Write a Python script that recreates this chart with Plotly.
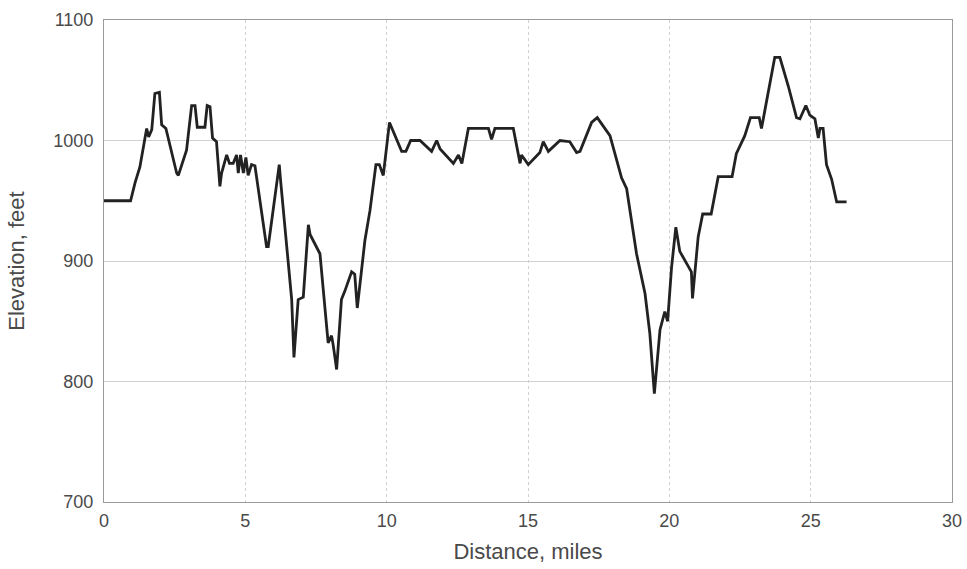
import plotly.graph_objects as go

distance_miles = [0.0, 0.94, 1.10, 1.27, 1.45, 1.51, 1.58, 1.69, 1.80, 1.96, 2.04, 2.19, 2.57, 2.63,
                  2.92, 3.10, 3.22, 3.30, 3.57, 3.65, 3.75, 3.84, 3.98, 4.10, 4.16, 4.34, 4.44,
                  4.57, 4.69, 4.75, 4.83, 4.93, 5.02, 5.10, 5.22, 5.34, 5.75, 5.81, 6.20, 6.25,
                  6.64, 6.72, 6.87, 7.05, 7.23, 7.29, 7.64, 7.93, 8.05, 8.11, 8.23, 8.40, 8.52,
                  8.76, 8.87, 8.96, 9.23, 9.41, 9.62, 9.74, 9.88, 10.10, 10.53, 10.68, 10.85,
                  11.18, 11.59, 11.77, 11.89, 12.36, 12.54, 12.66, 12.89, 13.60, 13.71, 13.83,
                  14.48, 14.72, 14.77, 15.01, 15.42, 15.54, 15.72, 16.13, 16.48, 16.72, 16.84,
                  17.25, 17.45, 17.90, 18.31, 18.49, 18.84, 19.14, 19.31, 19.47, 19.67, 19.84,
                  19.94, 20.08, 20.23, 20.37, 20.78, 20.82, 21.02, 21.18, 21.48, 21.73, 22.22,
                  22.37, 22.67, 22.87, 23.18, 23.26, 23.38, 23.73, 23.91, 24.21, 24.50, 24.62,
                  24.83, 24.97, 25.15, 25.27, 25.33, 25.44, 25.56, 25.74, 25.92, 26.27]
elevation_feet = [950, 950, 965, 978, 1002, 1010, 1003, 1009, 1039, 1040, 1013, 1010, 973, 971,
                  992, 1029, 1029, 1011, 1011, 1029, 1028, 1002, 999, 962, 973, 988, 981,
                  981, 988, 973, 988, 973, 986, 971, 980, 979, 912, 912, 980, 966,
                  868, 820, 868, 870, 930, 922, 906, 832, 838, 830, 810, 868, 875,
                  891, 889, 861, 917, 942, 980, 980, 971, 1015, 991, 991, 1000,
                  1000, 991, 1000, 993, 981, 988, 981, 1010, 1010, 1001, 1010,
                  1010, 981, 988, 980, 990, 999, 991, 1000, 999, 990, 991,
                  1015, 1019, 1004, 969, 960, 906, 873, 840, 790, 843, 858,
                  850, 895, 928, 908, 891, 869, 920, 939, 939, 970, 970,
                  989, 1004, 1019, 1019, 1010, 1025, 1069, 1069, 1045, 1019, 1018,
                  1029, 1021, 1018, 1002, 1010, 1010, 980, 968, 949, 949]

x_ticks = [0, 5, 10, 15, 20, 25, 30]
y_ticks = [700, 800, 900, 1000, 1100]

fig = go.Figure()
fig.add_trace(go.Scatter(
    x=distance_miles, y=elevation_feet, mode="lines",
    line=dict(color="#222222", width=2.8), showlegend=False))

font = dict(family="Liberation Sans, Arial, sans-serif", size=18, color="#4a4a4a")

fig.update_layout(
    width=967, height=569,
    margin=dict(l=104, r=15, t=20, b=67),
    paper_bgcolor="white", plot_bgcolor="white",
    font=font,
    xaxis=dict(range=[0, 30], tickvals=x_ticks, showgrid=True, automargin=False,
               gridcolor="#d0d0d0", griddash="dot", gridwidth=1,
               showline=True, linecolor="#9a9a9a", linewidth=1, mirror=True,
               ticks="", zeroline=False, ticklabelstandoff=2,
               title=dict(text="Distance, miles", standoff=14)),
    yaxis=dict(range=[700, 1100], tickvals=y_ticks, showgrid=True, automargin=False,
               gridcolor="#d0d0d0", gridwidth=1,
               showline=True, linecolor="#9a9a9a", linewidth=1, mirror=True,
               ticks="", zeroline=False, ticklabelstandoff=6,
               title=dict(text="Elevation, feet", standoff=22)),
)

# remove the browser's default 8px body margin so the figure fills the window
fig.write_html("out.html", config={"displayModeBar": False},
               post_script="document.body.style.margin='0';document.body.style.overflow='hidden';")
